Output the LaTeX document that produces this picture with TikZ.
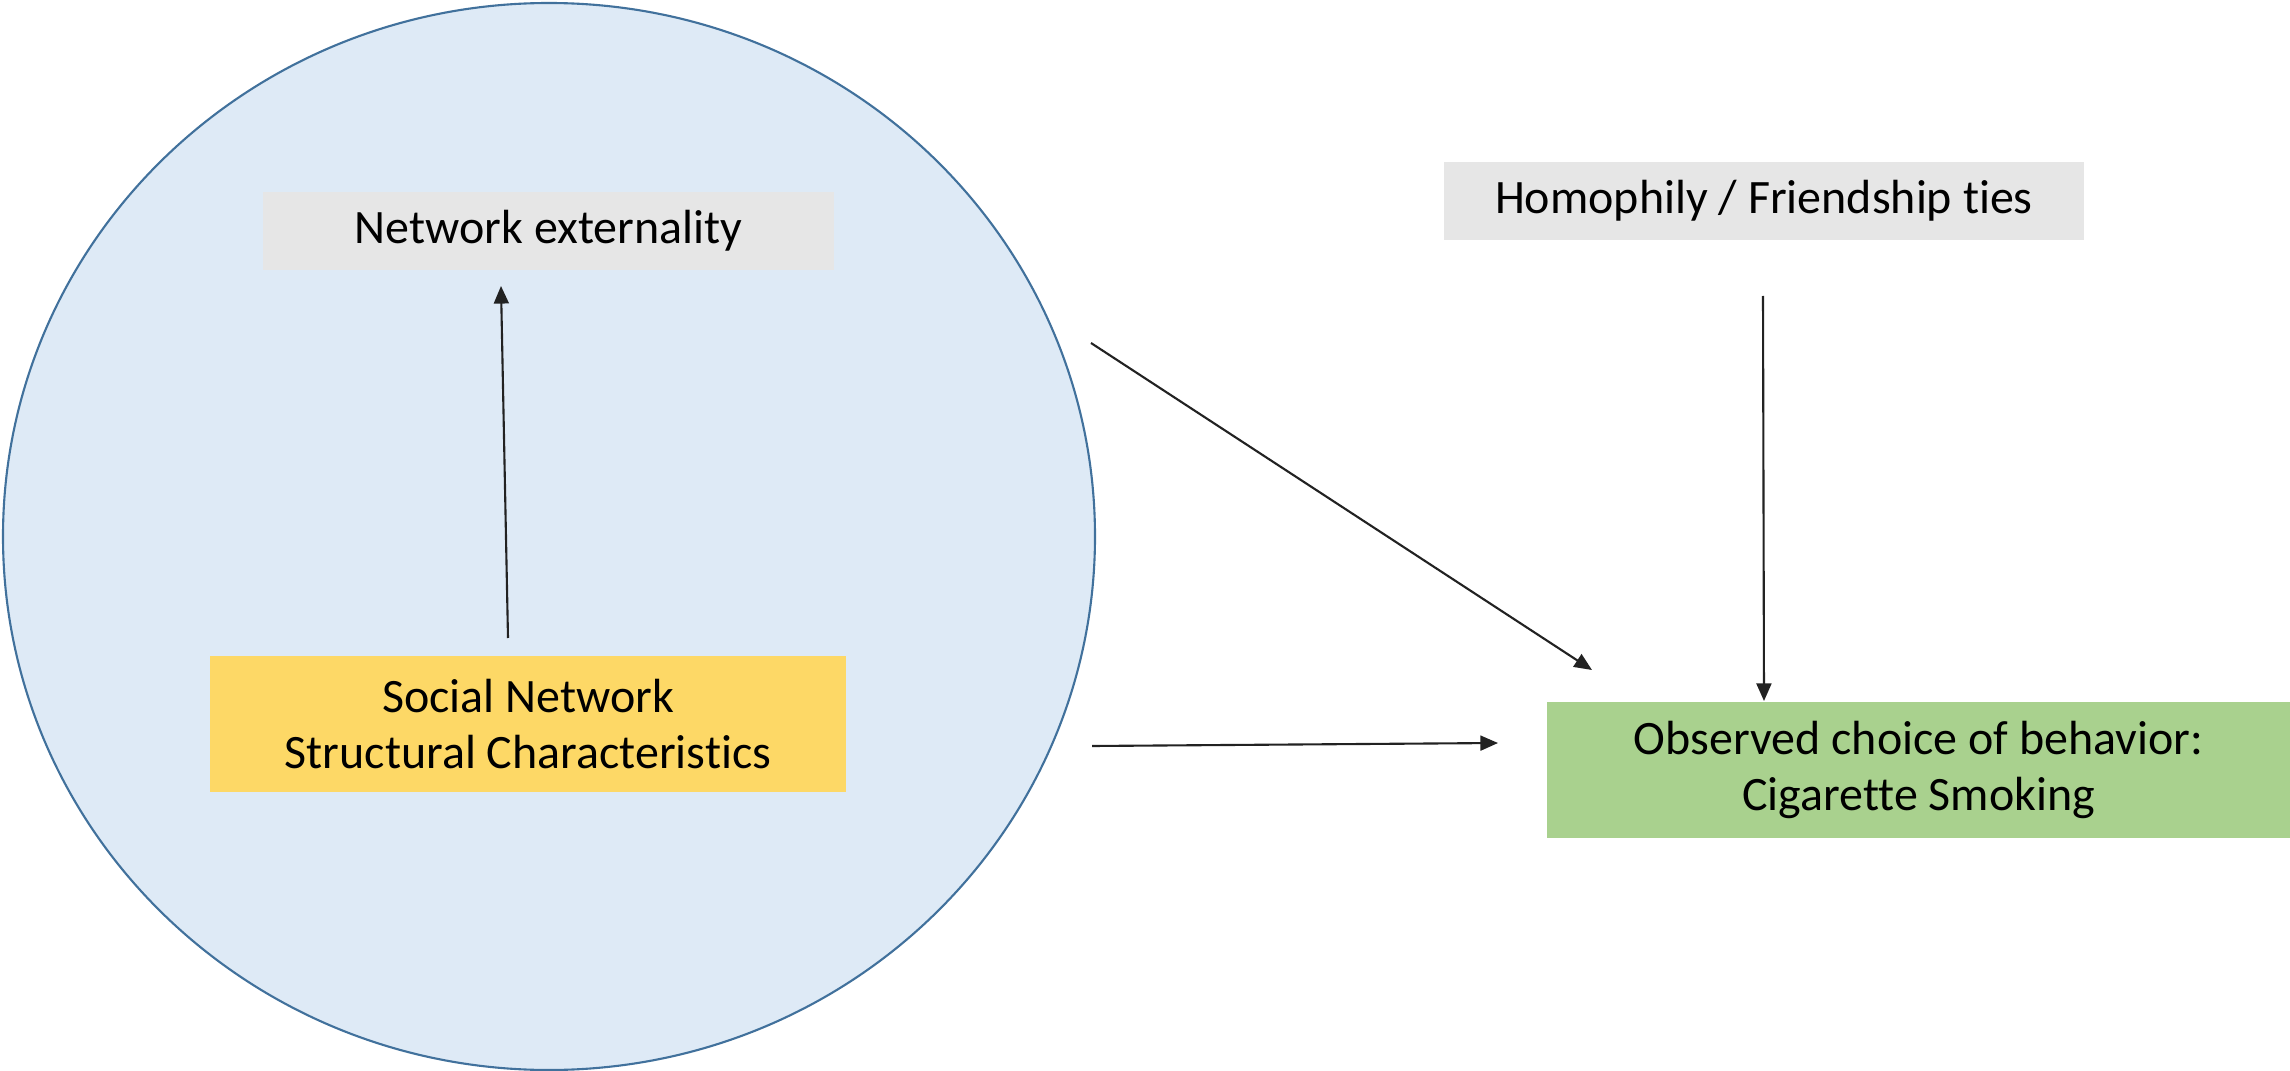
\documentclass[tikz,border=0pt]{standalone}
\usepackage{fontspec}
\setmainfont{Carlito}[RawFeature=-liga]
\usetikzlibrary{arrows.meta}
\definecolor{netfill}{HTML}{DEEAF6}
\definecolor{netline}{HTML}{41719C}
\definecolor{greybox}{HTML}{E6E6E6}
\definecolor{yellowbox}{HTML}{FDD866}
\definecolor{greenbox}{HTML}{A9D18E}
\definecolor{arrowcol}{HTML}{222222}
\begin{document}
\begin{tikzpicture}[x=0.02cm,y=-0.02cm,
  labelbox/.style={rectangle, inner sep=0pt, align=center,
    font=\fontsize{27.3}{32}\selectfont, text=black},
  arr/.style={draw=arrowcol, line width=1.2pt,
    -{Triangle[length=10pt,width=8.5pt]}}]
  \useasboundingbox (0,0) rectangle (2290,1071);
  \fill[white] (0,0) rectangle (2290,1071);

  % social network region
  \draw[fill=netfill, draw=netline, line width=1.2pt]
    (549,536.5) ellipse [x radius=546, y radius=533.5];

  % boxes
  \node[labelbox, fill=greybox, minimum width=571*0.02cm, minimum height=78*0.02cm]
    (netext) at (548.5,231) {Network externality};
  \node[labelbox, fill=greybox, minimum width=640*0.02cm, minimum height=78*0.02cm]
    (homo) at (1764,201) {Homophily / Friendship ties};
  \node[labelbox, fill=yellowbox, minimum width=636*0.02cm, minimum height=136*0.02cm]
    (social) at (528,724) {Social Network\\Structural Characteristics};
  \node[labelbox, fill=greenbox, minimum width=743*0.02cm, minimum height=136*0.02cm]
    (obs) at (1918.5,770) {Observed choice of behavior:\\Cigarette Smoking};

  % connector ends
  \coordinate (upS) at (508,638);
  \coordinate (upE) at (501,286);
  \coordinate (diagS) at (1091,343);
  \coordinate (diagE) at (1592,670);
  \coordinate (horS) at (1092,746);
  \coordinate (horE) at (1498,743);
  \coordinate (verS) at (1763,296);
  \coordinate (verE) at (1764,701);

  \draw[arr] (upS) -- (upE);
  \draw[arr] (diagS) -- (diagE);
  \draw[arr] (horS) -- (horE);
  \draw[arr] (verS) -- (verE);
\end{tikzpicture}
\end{document}
